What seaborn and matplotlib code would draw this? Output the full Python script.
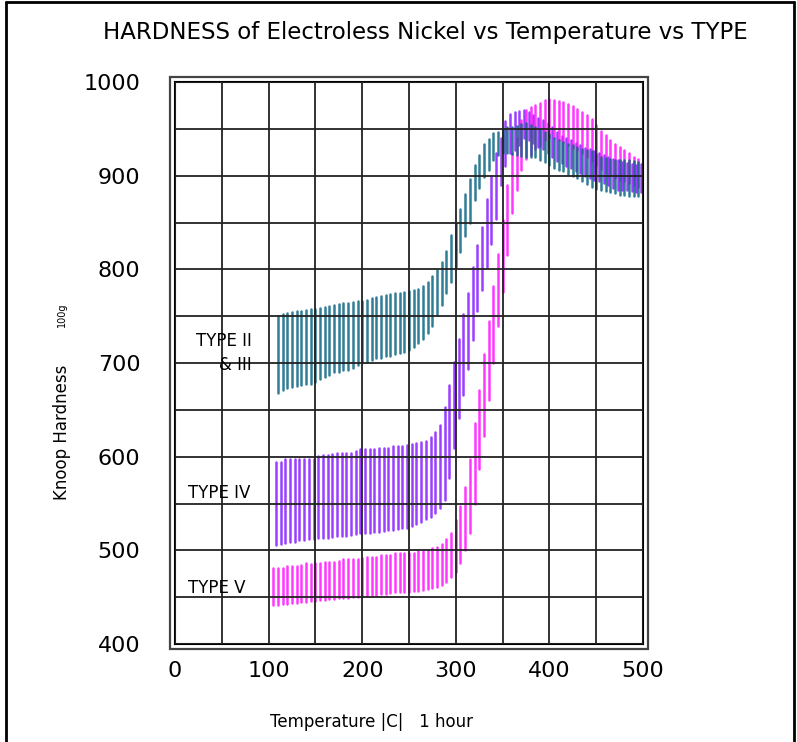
import numpy as np
import pandas as pd
import seaborn as sns
import matplotlib
matplotlib.use('Agg')
import matplotlib.pyplot as plt
from matplotlib.patches import Rectangle
from matplotlib.lines import Line2D

# sıcaklık noktaları (C) ve her noktada ölçülen sertlik aralığı (üst / alt)
temp_23 = list(range(110, 501, 5))
hi_23 = [750, 752, 753, 754, 755, 756, 757, 758, 758, 759, 760, 761, 762, 763, 764, 764,
         765, 766, 766, 767, 769, 770, 771, 773, 774, 775, 775, 776, 777, 778, 779, 782,
         786, 793, 799, 808, 820, 837, 850, 864, 880, 896, 911, 922, 934, 939, 946, 947,
         950, 952, 952, 953, 955, 956, 954, 952, 949, 947, 944, 940, 938, 936, 934, 933,
         931, 929, 927, 926, 923, 920, 919, 918, 917, 917, 917, 917, 916, 915, 914]
lo_23 = [668, 671, 673, 674, 675, 677, 678, 678, 680, 683, 685, 687, 690, 690, 692, 693,
         695, 698, 700, 701, 703, 705, 705, 707, 708, 710, 711, 712, 714, 717, 721, 726,
         732, 740, 751, 762, 775, 786, 802, 819, 836, 850, 874, 887, 899, 906, 917, 922,
         924, 924, 923, 922, 921, 920, 920, 920, 917, 915, 911, 908, 906, 905, 902, 900,
         897, 894, 891, 888, 886, 885, 884, 883, 881, 879, 879, 878, 878, 878, 877]

temp_4 = list(range(108, 499, 5))
hi_4 = [594, 594, 597, 597, 597, 598, 598, 598, 598, 601, 602, 602, 603, 604, 604, 604,
        604, 606, 608, 608, 608, 608, 609, 609, 609, 611, 611, 611, 612, 614, 615, 616,
        617, 621, 626, 634, 653, 677, 701, 726, 752, 775, 803, 826, 845, 875, 900, 924,
        940, 958, 966, 968, 969, 970, 968, 965, 962, 959, 956, 952, 947, 942, 940, 938,
        935, 933, 930, 928, 926, 924, 922, 920, 918, 917, 915, 913, 912, 911, 912]
lo_4 = [506, 507, 508, 509, 509, 511, 511, 512, 512, 513, 513, 513, 514, 515, 515, 515,
        516, 517, 518, 518, 519, 520, 520, 521, 522, 522, 523, 524, 524, 526, 528, 530,
        533, 536, 540, 545, 554, 577, 609, 641, 666, 694, 725, 755, 778, 803, 827, 854,
        890, 910, 924, 927, 933, 940, 938, 935, 931, 928, 924, 920, 916, 913, 910, 908,
        905, 903, 900, 897, 895, 894, 892, 890, 887, 885, 885, 885, 884, 883, 883]

temp_5 = list(range(105, 501, 5))
hi_5 = [481, 481, 481, 483, 483, 483, 484, 486, 485, 486, 487, 488, 488, 488, 489, 491,
        491, 491, 491, 492, 493, 493, 493, 495, 495, 495, 497, 497, 497, 497, 497, 499,
        499, 500, 502, 504, 507, 512, 518, 532, 547, 568, 598, 636, 671, 710, 745, 782,
        816, 853, 890, 924, 940, 959, 970, 973, 975, 978, 981, 982, 981, 980, 979, 977,
        974, 971, 968, 965, 960, 954, 948, 943, 938, 934, 931, 927, 924, 920, 918, 916]
lo_5 = [442, 442, 443, 443, 444, 444, 445, 445, 446, 446, 447, 447, 448, 448, 449, 449,
        449, 450, 450, 451, 451, 452, 452, 453, 453, 454, 455, 455, 456, 456, 457, 457,
        458, 459, 460, 461, 463, 466, 471, 477, 486, 500, 518, 550, 587, 622, 661, 700,
        739, 776, 815, 860, 885, 906, 918, 922, 928, 932, 938, 940, 940, 938, 936, 933,
        930, 927, 924, 920, 916, 911, 907, 904, 901, 898, 895, 894, 892, 890, 888, 886]

# her çubuk iki nokta: alt ve üst
rows = []
for name, xs, his, los in [('IV', temp_4, hi_4, lo_4),
                           ('V', temp_5, hi_5, lo_5),
                           ('II', temp_23, hi_23, lo_23)]:
    for i, (x, h, l) in enumerate(zip(xs, his, los)):
        rows.append((name, f'{name}-{i}', x, l))
        rows.append((name, f'{name}-{i}', x, h))
df = pd.DataFrame(rows, columns=['type', 'bar', 'temp', 'hk'])

renkler = {'II': '#0d6683', 'IV': '#8a1cff', 'V': '#ff14ff'}

sns.set_style('white')
plt.rcParams['font.family'] = ['DejaVu Sans']
plt.rcParams['text.color'] = 'black'

fig = plt.figure(figsize=(7.97, 7.42), dpi=100)
ax = fig.add_axes([175 / 797, 1 - 644 / 742, 468 / 797, 562 / 742])

sns.lineplot(data=df, x='temp', y='hk', hue='type', units='bar', estimator=None,
             palette=renkler, linewidth=1.8, alpha=0.85, sort=False, legend=False, ax=ax)

ax.set_xlim(0, 500)
ax.set_ylim(400, 1000)
ax.set_xticks(range(0, 501, 100))
ax.set_xticks(range(50, 501, 100), minor=True)
ax.set_yticks(range(400, 1001, 100))
ax.set_yticks(range(450, 1000, 100), minor=True)
ax.grid(True, which='both', color='#222222', linewidth=1.3)
ax.set_axisbelow(False)
ax.tick_params(axis='both', which='both', length=0, labelcolor='black')
ax.tick_params(axis='x', pad=12, labelsize=16)
ax.tick_params(axis='y', pad=25, labelsize=16)
ax.set_xlabel('')
ax.set_ylabel('')
for s in ax.spines.values():
    s.set_visible(True)
    s.set_color('black')
    s.set_linewidth(1.5)

# dış çerçeve
ax.add_patch(Rectangle((-5.3, 394.7), 510.6, 610.6, transform=ax.transData,
                       fill=False, edgecolor='#444444', linewidth=1.6, clip_on=False))

# tip etiketleri
ax.text(82, 723, 'TYPE II', ha='right', va='center', fontsize=12, color='black')
ax.text(82, 698, '& III', ha='right', va='center', fontsize=12, color='black')
ax.text(80, 561, 'TYPE IV', ha='right', va='center', fontsize=12, color='black')
ax.text(75, 460, 'TYPE V', ha='right', va='center', fontsize=12, color='black')

fig.text(425 / 797, 1 - 32 / 742, 'HARDNESS of Electroless Nickel vs Temperature vs TYPE',
         ha='center', va='center', fontsize=16.5, color='black')
fig.text(372 / 797, 1 - 722 / 742, 'Temperature |C|   1 hour', ha='center', va='center',
         fontsize=12, color='black')
fig.text(62 / 797, 1 - 432 / 742, 'Knoop Hardness', ha='center', va='center',
         rotation=90, fontsize=12, color='black')
fig.text(62 / 797, 1 - 315 / 742, '100g', ha='center', va='center', rotation=90,
         fontsize=7, color='black')

# sayfa kenar çizgileri
fig.add_artist(Line2D([6 / 797, 6 / 797], [0, 1 - 2 / 742], color='black', lw=2))
fig.add_artist(Line2D([6 / 797, 794 / 797], [1 - 2 / 742, 1 - 2 / 742], color='black', lw=2))
fig.add_artist(Line2D([794 / 797, 794 / 797], [0, 1 - 2 / 742], color='black', lw=2))

fig.savefig('out.png', dpi=100)
